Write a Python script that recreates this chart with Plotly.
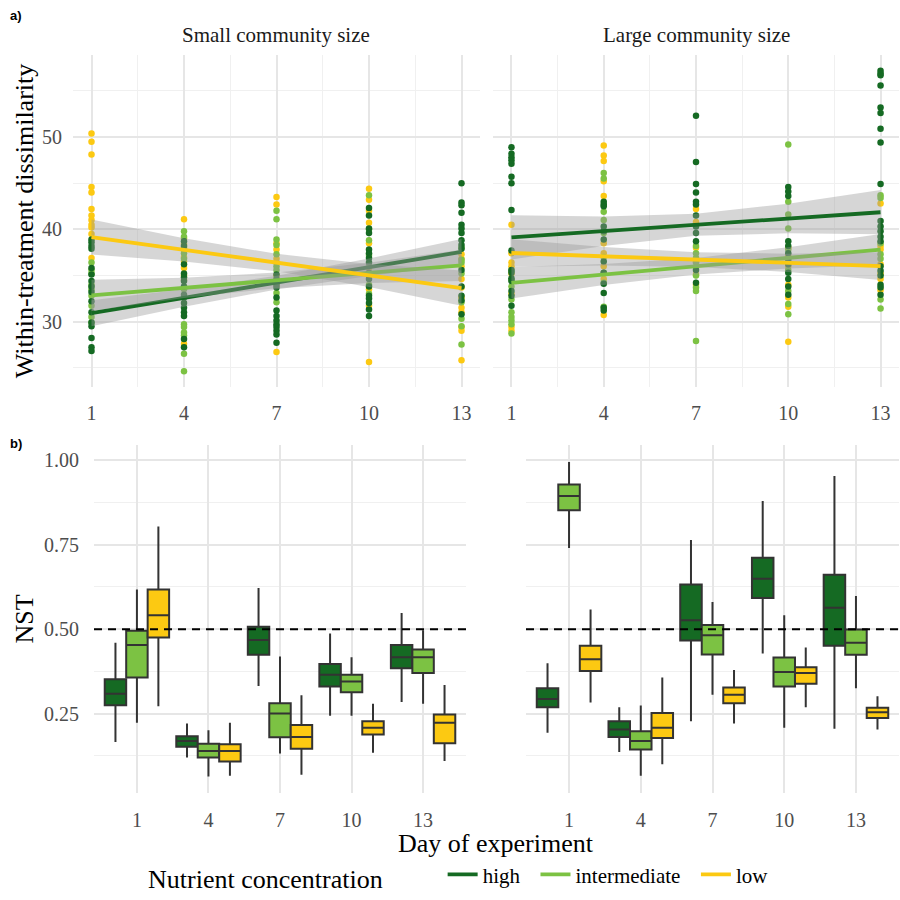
import plotly.graph_objects as go

# ---------------- data ----------------
DAYS = [1, 4, 7, 10, 13]
DAY_LABELS = ["1", "4", "7", "10", "13"]
TREATMENTS = ["high", "intermediate", "low"]
LEGEND_LABELS = {"high": "high&nbsp;&nbsp;", "intermediate": "intermediate&nbsp;&nbsp;",
                 "low": "low"}
COLORS = {"high": "#156a23", "intermediate": "#7cc243", "low": "#fcc912"}

# Panel a: within-treatment dissimilarity points, one list per day (1,4,7,10,13)
small_high = [
    [38.9, 38.6, 38.2, 37.9, 35.8, 35.1, 34.4, 33.8, 33.2, 32.2, 31.0, 29.9, 29.5, 28.2, 27.2, 26.8],
    [38.7, 38.2, 36.2, 35.2, 34.8, 34.4, 33.8, 32.9, 32.6, 32.0, 31.5, 31.0, 30.6, 28.1, 27.2],
    [35.1, 34.6, 34.2, 33.7, 32.6, 31.2, 30.6, 30.1, 29.7, 29.4, 29.0, 28.6, 27.7, 34.0],
    [42.3, 41.5, 40.1, 39.6, 37.8, 37.4, 36.9, 36.4, 35.3, 34.6, 33.8, 32.8, 32.5, 32.0, 31.3, 30.6],
    [45.0, 42.9, 42.6, 41.8, 40.5, 40.1, 39.6, 38.8, 38.3, 37.9, 35.6, 33.8, 32.8, 32.3, 30.8],
]
small_int = [
    [36.4, 35.6, 35.2, 34.0, 33.5, 32.8, 31.7, 30.5, 29.9],
    [39.8, 39.2, 37.8, 37.4, 36.8, 33.5, 29.7, 29.4, 28.8, 28.5, 26.5, 24.6],
    [42.0, 41.1, 38.9, 38.3, 37.3, 36.0, 35.6, 34.4, 33.1, 32.1],
    [43.7, 40.0, 38.8, 37.2, 36.0, 35.2, 34.0, 33.0],
    [38.0, 36.7, 36.4, 35.2, 32.1, 30.3, 29.5, 27.5],
]
small_low = [
    [50.4, 49.5, 48.1, 44.6, 44.0, 42.2, 41.5, 41.0, 40.5, 40.2, 39.5, 36.9],
    [41.1, 39.0, 38.4, 38.0, 37.0, 36.5, 35.8, 35.0, 34.5, 27.6],
    [43.5, 42.7, 38.5, 37.8, 36.8, 36.4, 35.0, 34.0, 26.7],
    [44.4, 43.2, 42.0, 40.7, 38.5, 35.8, 35.0, 33.5, 31.7, 25.6],
    [37.3, 36.8, 36.0, 34.6, 33.7, 32.6, 31.5, 31.0, 29.4, 29.0, 25.8],
]
large_high = [
    [48.9, 48.2, 47.8, 47.5, 47.1, 45.7, 45.0, 42.1, 37.7, 35.6, 35.3, 34.7, 34.4, 33.3, 32.8, 31.7],
    [43.0, 42.7, 42.5, 40.3, 39.8, 38.9, 36.5, 35.3, 34.1, 33.1, 31.5, 31.2],
    [52.3, 47.3, 44.9, 44.0, 43.0, 42.7, 41.5, 40.3, 39.6, 38.7, 35.6, 34.2],
    [44.6, 44.1, 43.6, 38.7, 38.2, 37.4, 36.7, 36.2, 35.3, 34.6, 33.8, 32.9],
    [57.2, 56.9, 56.7, 55.6, 53.2, 52.6, 50.9, 49.4, 44.9, 40.9, 40.3, 39.8, 39.2, 38.7,
     36.0, 35.5, 35.0, 34.0, 33.7, 32.9],
]
large_int = [
    [35.5, 34.5, 33.8, 32.4, 31.0, 30.5, 30.1, 29.7, 28.7],
    [46.1, 45.5, 41.9, 41.0, 39.6, 37.0, 35.3, 34.2, 31.6],
    [38.2, 37.4, 36.9, 36.4, 35.0, 33.7, 33.3, 27.9],
    [49.2, 43.0, 41.6, 40.1, 37.8, 35.6, 33.3, 31.9, 30.8],
    [43.7, 43.4, 38.5, 37.3, 36.8, 32.4, 31.4],
]
large_low = [
    [40.5, 37.4, 36.4, 36.0, 35.2, 33.0, 29.4, 29.0],
    [49.1, 48.0, 47.4, 45.2, 43.6, 38.5, 37.4, 36.0, 34.6, 30.7],
    [42.2, 40.8, 38.0, 36.5, 35.1, 34.0],
    [38.0, 37.1, 36.0, 34.0, 32.6, 31.6, 27.8],
    [42.8, 38.2, 37.8, 36.2, 35.2, 34.6, 33.4],
]

# Panel a: linear fits (value at each day) and confidence half-widths
fit_small_high = [30.90, 32.56, 34.22, 35.89, 37.55]
fit_small_int = [32.84, 33.65, 34.47, 35.28, 36.09]
fit_small_low = [39.16, 37.77, 36.39, 35.00, 33.62]
fit_large_high = [39.12, 39.80, 40.49, 41.17, 41.85]
fit_large_int = [34.20, 35.10, 36.00, 36.90, 37.80]
fit_large_low = [37.43, 37.07, 36.72, 36.36, 36.00]
ci_small_high = [1.40, 0.95, 0.75, 0.95, 1.40]
ci_small_int = [1.70, 1.10, 0.85, 1.10, 1.70]
ci_small_low = [1.90, 1.25, 0.95, 1.25, 1.90]
ci_large_high = [2.40, 1.60, 1.20, 1.60, 2.40]
ci_large_int = [1.70, 1.15, 0.90, 1.15, 1.70]
ci_large_low = [1.50, 1.00, 0.80, 1.00, 1.50]

# Panel b: NST box statistics per day: (lower whisker, Q1, median, Q3, upper whisker)
nst_small_high = [(0.166, 0.275, 0.309, 0.352, 0.460), (0.120, 0.152, 0.169, 0.183, 0.221),
                  (0.332, 0.424, 0.468, 0.507, 0.622), (0.244, 0.330, 0.365, 0.397, 0.487),
                  (0.284, 0.384, 0.417, 0.453, 0.548)]
nst_small_int = [(0.223, 0.357, 0.453, 0.495, 0.617), (0.064, 0.120, 0.139, 0.161, 0.201),
                 (0.132, 0.180, 0.250, 0.281, 0.419), (0.244, 0.313, 0.345, 0.365, 0.417),
                 (0.279, 0.370, 0.417, 0.440, 0.497)]
nst_small_low = [(0.272, 0.475, 0.541, 0.617, 0.804), (0.066, 0.108, 0.139, 0.159, 0.223),
                 (0.069, 0.146, 0.181, 0.216, 0.304), (0.134, 0.188, 0.208, 0.227, 0.279),
                 (0.110, 0.162, 0.223, 0.247, 0.335)]
nst_large_high = [(0.193, 0.269, 0.293, 0.325, 0.399), (0.136, 0.181, 0.203, 0.227, 0.269),
                  (0.227, 0.466, 0.526, 0.632, 0.764), (0.428, 0.592, 0.649, 0.711, 0.879),
                  (0.205, 0.451, 0.563, 0.661, 0.953)]
nst_large_int = [(0.740, 0.852, 0.894, 0.928, 0.995), (0.066, 0.144, 0.169, 0.198, 0.274),
                 (0.306, 0.425, 0.482, 0.512, 0.580), (0.208, 0.330, 0.373, 0.416, 0.541),
                 (0.325, 0.424, 0.460, 0.499, 0.598)]
nst_large_low = [(0.283, 0.376, 0.411, 0.451, 0.558), (0.100, 0.178, 0.208, 0.252, 0.357),
                 (0.221, 0.281, 0.306, 0.327, 0.379), (0.269, 0.338, 0.370, 0.387, 0.446),
                 (0.203, 0.237, 0.254, 0.267, 0.301)]
NST_THRESHOLD = 0.5

# ---------------- styling ----------------
SERIF = "Liberation Serif"
TICK_FONT = dict(family=SERIF, size=20, color="#4d4d4d")
GRID = "#e6e6e6"
GRID_MINOR = "#f0f0f0"
BAND = "rgba(153,153,153,0.4)"
BOX_LINE = "#333333"
NOTICK = "rgba(0,0,0,0)"

fig = go.Figure()

points = {
    ("x", "y"): {"high": small_high, "intermediate": small_int, "low": small_low},
    ("x2", "y2"): {"high": large_high, "intermediate": large_int, "low": large_low},
}
fits = {
    ("x", "y"): {"high": (fit_small_high, ci_small_high),
                 "intermediate": (fit_small_int, ci_small_int),
                 "low": (fit_small_low, ci_small_low)},
    ("x2", "y2"): {"high": (fit_large_high, ci_large_high),
                   "intermediate": (fit_large_int, ci_large_int),
                   "low": (fit_large_low, ci_large_low)},
}

for (xa, ya), groups in points.items():
    for tr in ["low", "intermediate", "high"]:
        xs, ys = [], []
        for d, vals in zip(DAYS, groups[tr]):
            xs += [d] * len(vals)
            ys += vals
        fig.add_trace(go.Scatter(x=xs, y=ys, mode="markers", xaxis=xa, yaxis=ya,
                                 marker=dict(color=COLORS[tr], size=6.5),
                                 showlegend=False, hoverinfo="skip"))

for (xa, ya), groups in fits.items():
    for tr in TREATMENTS:
        fit, ci = groups[tr]
        upper = [f + c for f, c in zip(fit, ci)]
        lower = [f - c for f, c in zip(fit, ci)]
        fig.add_trace(go.Scatter(x=DAYS + DAYS[::-1], y=upper + lower[::-1], fill="toself",
                                 fillcolor=BAND, line=dict(width=0), mode="lines",
                                 xaxis=xa, yaxis=ya, showlegend=False, hoverinfo="skip"))
        fig.add_trace(go.Scatter(x=DAYS, y=fit, mode="lines", xaxis=xa, yaxis=ya,
                                 line=dict(color=COLORS[tr], width=3.8),
                                 name=LEGEND_LABELS[tr], legendgroup=tr,
                                 showlegend=(xa == "x")))

boxes = {
    ("x3", "y3"): {"high": nst_small_high, "intermediate": nst_small_int, "low": nst_small_low},
    ("x4", "y4"): {"high": nst_large_high, "intermediate": nst_large_int, "low": nst_large_low},
}
for (xa, ya), groups in boxes.items():
    for tr in TREATMENTS:
        lo, q1, med, q3, hi = map(list, zip(*groups[tr]))
        fig.add_trace(go.Box(x=DAY_LABELS, lowerfence=lo, q1=q1, median=med, q3=q3,
                             upperfence=hi, xaxis=xa, yaxis=ya, name=tr, legendgroup=tr,
                             offsetgroup=tr, alignmentgroup="nst",
                             fillcolor=COLORS[tr], line=dict(color=BOX_LINE, width=2),
                             whiskerwidth=0, boxpoints=False, showlegend=False))

for xa, ya in [("x3", "y3"), ("x4", "y4")]:
    fig.add_shape(type="line", xref=f"{xa} domain", yref=ya, x0=0, x1=1,
                  y0=NST_THRESHOLD, y1=NST_THRESHOLD, layer="above",
                  line=dict(color="black", width=2, dash="8px,6px"))


def px_dom(a, b):
    return [a / 900, b / 900]


def py_dom(top, bottom):
    return [1 - bottom / 900, 1 - top / 900]


common = dict(showline=False, zeroline=False, showgrid=True,
              gridcolor=GRID, gridwidth=1.5, tickfont=TICK_FONT,
              ticks="outside", tickcolor=NOTICK, automargin=False)
minor_x_a = dict(tickvals=[2.5, 5.5, 8.5, 11.5], showgrid=True, gridcolor=GRID_MINOR,
                 gridwidth=1, ticks="")
minor_y_a = dict(tickvals=[25, 35, 45, 55], showgrid=True, gridcolor=GRID_MINOR,
                 gridwidth=1, ticks="")
minor_y_b = dict(tickvals=[0.125, 0.375, 0.625, 0.875], showgrid=True,
                 gridcolor=GRID_MINOR, gridwidth=1, ticks="")

ya_dom = py_dom(55, 387)
yb_dom = py_dom(445, 793)

fig.update_layout(
    width=900, height=900,
    margin=dict(l=0, r=0, t=0, b=0, autoexpand=False),
    paper_bgcolor="white", plot_bgcolor="white",
    font=dict(family=SERIF, color="black"),
    boxmode="group", boxgap=0.1, boxgroupgap=0,
    xaxis=dict(domain=px_dom(73, 480), anchor="y", range=[0.4, 13.6],
               tickvals=DAYS, ticktext=DAY_LABELS, minor=minor_x_a, ticklen=8, **common),
    yaxis=dict(domain=ya_dom, anchor="x", range=[22.9, 58.9], tickvals=[30, 40, 50],
               minor=minor_y_a, ticklen=6,
               title=dict(text="Within-treatment dissimilarity",
                          font=dict(family=SERIF, size=26, color="black"), standoff=0),
               **common),
    xaxis2=dict(domain=px_dom(493, 899), anchor="y2", range=[0.4, 13.6],
                tickvals=DAYS, ticktext=DAY_LABELS, minor=minor_x_a, ticklen=8, **common),
    yaxis2=dict(domain=ya_dom, anchor="x2", range=[22.9, 58.9], tickvals=[30, 40, 50],
                minor=minor_y_a, showticklabels=False, ticklen=0, **common),
    xaxis3=dict(domain=px_dom(94, 466), anchor="y3", type="category",
                categoryorder="array", categoryarray=DAY_LABELS, range=[-0.6, 4.6],
                ticklen=9, **common),
    yaxis3=dict(domain=yb_dom, anchor="x3", range=[0.015, 1.045],
                tickvals=[0.25, 0.5, 0.75, 1.0], ticktext=["0.25", "0.50", "0.75", "1.00"],
                minor=minor_y_b, ticklen=10,
                title=dict(text="NST", font=dict(family=SERIF, size=26, color="black"),
                           standoff=2),
                **common),
    xaxis4=dict(domain=px_dom(526, 899), anchor="y4", type="category",
                categoryorder="array", categoryarray=DAY_LABELS, range=[-0.6, 4.6],
                ticklen=9, **common),
    yaxis4=dict(domain=yb_dom, anchor="x4", range=[0.015, 1.045],
                tickvals=[0.25, 0.5, 0.75, 1.0], minor=minor_y_b, showticklabels=False,
                ticklen=0, **common),
    legend=dict(orientation="h", x=146 / 900, y=0.002, xanchor="left",
                yanchor="bottom", bgcolor="rgba(0,0,0,0)",
                font=dict(family=SERIF, size=21, color="black"),
                title=dict(text="Nutrient concentration" + "&nbsp;" * 8, side="left",
                           font=dict(family=SERIF, size=26, color="black")),
                itemwidth=30, traceorder="normal"),
    showlegend=True,
)

annotations = [
    dict(text="Small community size", x=276 / 900, y=1 - 35 / 900),
    dict(text="Large community size", x=696 / 900, y=1 - 35 / 900),
]
for a in annotations:
    fig.add_annotation(xref="paper", yref="paper", x=a["x"], y=a["y"], text=a["text"],
                       showarrow=False, xanchor="center", yanchor="middle",
                       font=dict(family=SERIF, size=21, color="#1a1a1a"))
fig.add_annotation(xref="paper", yref="paper", x=496 / 900, y=1 - 843 / 900,
                   text="Day of experiment", showarrow=False, xanchor="center",
                   yanchor="middle", font=dict(family=SERIF, size=26, color="black"))
for lab, ypx in [("a)", 15), ("b)", 443)]:
    fig.add_annotation(xref="paper", yref="paper", x=8 / 900, y=1 - ypx / 900, text=f"<b>{lab}</b>",
                       showarrow=False, xanchor="left", yanchor="middle",
                       font=dict(family="Liberation Sans", size=13, color="black"))

fig.write_html("out.html")
